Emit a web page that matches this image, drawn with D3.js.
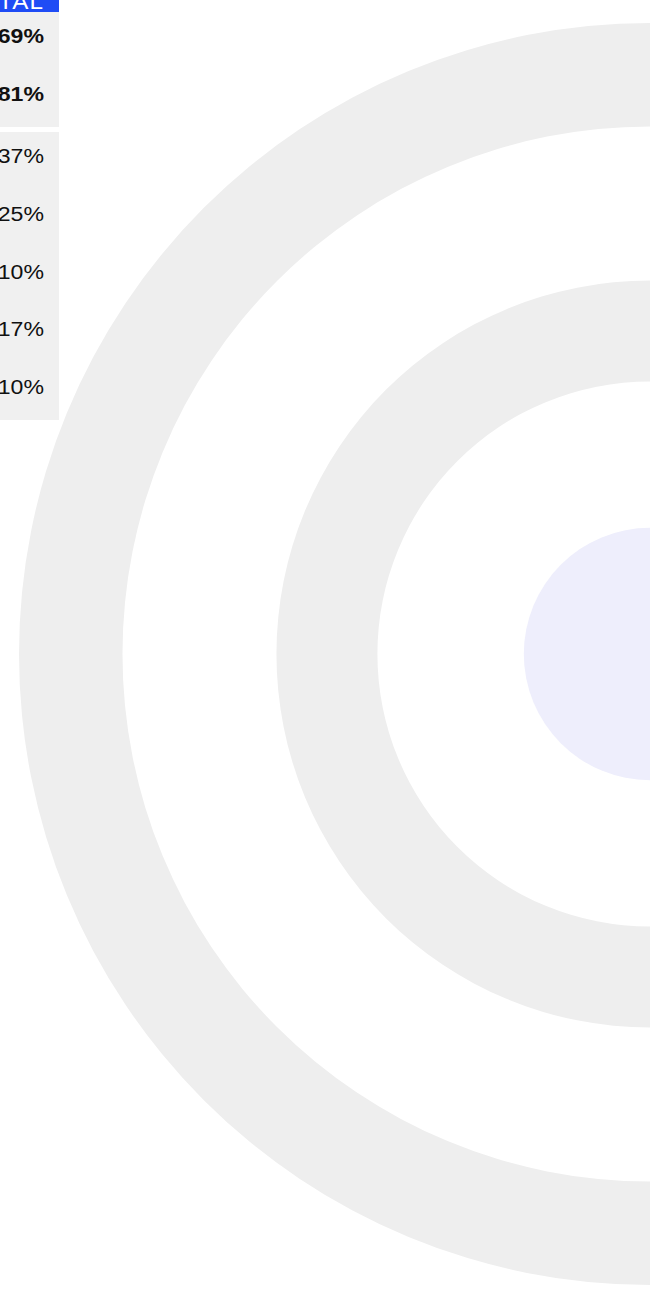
<!DOCTYPE html>
<html>
<head>
<meta charset="utf-8">
<script src="https://cdn.jsdelivr.net/npm/d3@7"></script>
<style>
  html, body { margin: 0; padding: 0; background: #fff; overflow: hidden; }
  svg { display: block; font-family: "Liberation Sans", Arial, Helvetica, sans-serif; }
</style>
</head>
<body>
<svg id="chart" width="654" height="1289"></svg>
<script>
// table values
const headerLabel = 'TOTAL';
const summaryValues = [69, 81];
const detailValues = [37, 25, 10, 17, 10];

// background rings (radius units, 0..5)
const ringNames = ['outer', 'middle', 'core'];
const ringInner = [4.18, 2.16, 0];
const ringOuter = [5.0, 2.96, 1.0];
const ringColors = ['#eeeeee', '#eeeeee', '#eeeefc'];

const svg = d3.select('#chart');

// 링 그리기 - 중심은 오른쪽 끝, 왼쪽 반원만 보임
const cx = 650, cy = 654;
const rScale = d3.scaleLinear().domain([0, 5]).range([0, 631]);
const arc = d3.arc().startAngle(Math.PI).endAngle(2 * Math.PI);

svg.append('g')
    .attr('transform', `translate(${cx},${cy})`)
    .selectAll('path')
    .data(ringNames)
    .join('path')
    .attr('d', (d, i) => arc({ innerRadius: rScale(ringInner[i]), outerRadius: rScale(ringOuter[i]) }))
    .attr('fill', (d, i) => ringColors[i]);

// 표 그리기 (왼쪽으로 잘려 있음). 글자는 가로로 조금 넓은 폰트라 scale로 늘림
const tableX = -60, tableW = 119, textX = 44, stretch = 1.1;
const table = svg.append('g');

table.append('rect')
    .attr('x', tableX).attr('y', -30)
    .attr('width', tableW).attr('height', 42)
    .attr('fill', '#1f4cf5');
table.append('text')
    .attr('transform', `translate(${textX},9) scale(${stretch},1)`)
    .attr('text-anchor', 'end')
    .attr('fill', '#fff')
    .attr('font-size', 22)
    .attr('letter-spacing', 1)
    .text(headerLabel);

function drawBlock (values, y0, y1, bold) {
    const y = d3.scaleBand().domain(d3.range(values.length)).range([y0, y1]);
    table.append('rect')
        .attr('x', tableX).attr('y', y0)
        .attr('width', tableW).attr('height', y1 - y0)
        .attr('fill', '#f0f0f0');
    table.append('g')
        .selectAll('text')
        .data(values)
        .join('text')
        .attr('transform', (d, i) => `translate(${textX},${y(i) + y.bandwidth() / 2 - 5}) scale(${stretch},1)`)
        .attr('dy', '0.36em')
        .attr('text-anchor', 'end')
        .attr('font-size', 21)
        .attr('font-weight', bold ? 'bold' : 'normal')
        .attr('fill', '#111')
        .text(d => d + '%');
}

drawBlock(summaryValues, 12, 127, true);
drawBlock(detailValues, 132, 420, false);
</script>
</body>
</html>
